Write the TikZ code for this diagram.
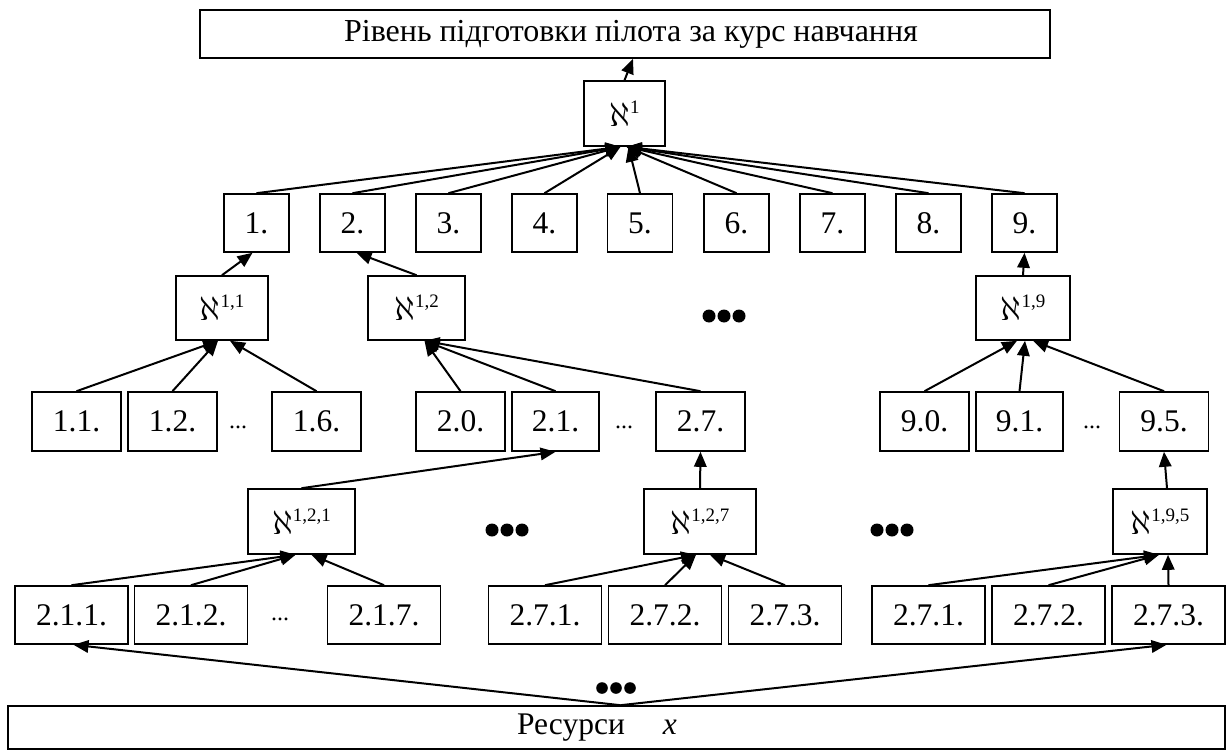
\RequirePackage{fix-cm}
\documentclass[tikz,border=0pt]{standalone}
\usepackage{fontspec}
\setmainfont{Liberation Serif}
\usetikzlibrary{arrows.meta}
\newcommand\alephsup[1]{{\fontsize{34}{34}\selectfont$\aleph$}\raisebox{13pt}{\fontsize{19}{19}\selectfont #1}}
\begin{document}
\begin{tikzpicture}[x=1pt,y=-1pt,
  box/.style={draw,line width=1.6pt,inner sep=0pt,font=\fontsize{31.5}{31.5}\selectfont},
  nb/.style={box,minimum width=65,minimum height=58},
  mb/.style={box,minimum width=89,minimum height=59},
  lb/.style={box,minimum width=113,minimum height=58},
  ab/.style={box,minimum height=65},
  arr/.style={line width=2pt,-{Triangle[length=15pt,width=12.5pt]}},
  ell/.style={font=\fontsize{24}{24}\selectfont,inner sep=0pt}]
\useasboundingbox (0,0) rectangle (1228,752);
% title
\node[box,minimum width=850,minimum height=48,font=\fontsize{32}{32}\selectfont] (T) at (625,34) {\hspace*{12pt}Рівень підготовки пілота за курс навчання};
\node[ab,minimum width=81] (A1) at (624.5,113.5) {\alephsup{1}};
% row 1
\foreach \i/\x in {1/256.5,2/352.5,3/448.5,4/544.5,5/640,6/736.5,7/832.5,8/928.5,9/1024.5}
  \node[nb] (b\i) at (\x,223) {\i.};
% row 2
\node[ab,minimum width=92,minimum height=64] (A11) at (222,308) {\alephsup{1,1}};
\node[ab,minimum width=97,minimum height=64] (A12) at (416.5,308) {\alephsup{1,2}};
\node[ab,minimum width=94,minimum height=64] (A19) at (1023,308) {\alephsup{1,9}};
% row 3
\node[mb] (c11) at (76.5,421.5) {1.1.};
\node[mb] (c12) at (172.5,421.5) {1.2.};
\node[ell] (e1) at (238,427) {...};
\node[mb] (c16) at (316.5,421.5) {1.6.};
\node[mb] (c20) at (460.5,421.5) {2.0.};
\node[mb,minimum width=87] (c21) at (555.5,421.5) {2.1.};
\node[ell] (e2) at (624,427) {...};
\node[mb] (c27) at (700.5,421.5) {2.7.};
\node[mb] (c90) at (924.5,421.5) {9.0.};
\node[mb,minimum width=87] (c91) at (1019.5,421.5) {9.1.};
\node[ell] (e3) at (1092,427) {...};
\node[mb] (c95) at (1164,421.5) {9.5.};
% row 4
\node[ab,minimum width=107] (A121) at (301.5,521.5) {\alephsup{1,2,1}};
\node[ab,minimum width=112] (A127) at (700,521.5) {\alephsup{1,2,7}};
\node[ab,minimum width=94] (A195) at (1160,521.5) {\alephsup{1,9,5}};
% row 5
\node[lb] (d211) at (71.5,615) {2.1.1.};
\node[lb] (d212) at (191,615) {2.1.2.};
\node[ell] (e4) at (280,619) {...};
\node[lb] (d217) at (384,615) {2.1.7.};
\node[lb] (d271) at (545,615) {2.7.1.};
\node[lb] (d272) at (665,615) {2.7.2.};
\node[lb] (d273) at (785,615) {2.7.3.};
\node[lb] (f271) at (928.5,615) {2.7.1.};
\node[lb] (f272) at (1048.5,615) {2.7.2.};
\node[lb] (f273) at (1168.5,615) {2.7.3.};
% resources
\node[box,minimum width=1217,minimum height=43] (R) at (616.5,727.5) {Ресурси\hspace{38pt}\textit{x}\hspace*{39pt}};
% big dots
\coordinate (g1) at (724,316);
\coordinate (g2) at (507,530);
\coordinate (g3) at (892,530);
\coordinate (g4) at (616,688);
\foreach \g in {g1,g2,g3}
  \foreach \dx in {-15,0,15}
    \fill ([xshift=\dx pt]\g) circle (6.5pt);
\foreach \dx in {-14,0,14}
  \fill ([xshift=\dx pt]g4) circle (5.8pt);
% arrows
\draw[arr] (A1.north) -- ([xshift=8pt]T.south);
\foreach \i in {1,2,3,4}
  \draw[arr] (b\i.north) -- ([xshift=-4pt]A1.south);
\draw[arr] (b5.north) -- ([xshift=4pt]A1.south);
\foreach \i in {6,7,8,9}
  \draw[arr] (b\i.north) -- ([xshift=2pt]A1.south);
\draw[arr] (A11.north) -- ([xshift=-4pt]b1.south);
\draw[arr] (A12.north) -- ([xshift=4pt]b2.south);
\draw[arr] (A19.north) -- (b9.south);
\draw[arr] (c11.north) -- ([xshift=-4pt]A11.south);
\draw[arr] (c12.north) -- ([xshift=-4pt]A11.south);
\draw[arr] (c16.north) -- ([xshift=8pt]A11.south);
\foreach \n in {c20,c21,c27}
  \draw[arr] (\n.north) -- ([xshift=8pt]A12.south);
\draw[arr] (c90.north) -- ([xshift=-6pt]A19.south);
\draw[arr] (c91.north) -- ([xshift=2pt]A19.south);
\draw[arr] (c95.north) -- ([xshift=10pt]A19.south);
\draw[arr] (A121.north) -- (c21.south);
\draw[arr] (A127.north) -- (c27.south);
\draw[arr] ([xshift=7pt]A195.north) -- (c95.south);
\draw[arr] (d211.north) -- ([xshift=-6pt]A121.south);
\draw[arr] (d212.north) -- ([xshift=-6pt]A121.south);
\draw[arr] (d217.north) -- ([xshift=10pt]A121.south);
\draw[arr] (d271.north) -- ([xshift=-4pt]A127.south);
\draw[arr] (d272.north) -- ([xshift=-4pt]A127.south);
\draw[arr] (d273.north) -- ([xshift=10pt]A127.south);
\draw[arr] (f271.north) -- ([xshift=-1pt]A195.south);
\draw[arr] (f272.north) -- ([xshift=-1pt]A195.south);
\draw[arr] (f273.north) -- ([xshift=8pt]A195.south);
\draw[arr] ([xshift=4pt]R.north) -- ([xshift=2pt]d211.south);
\draw[arr] ([xshift=4pt]R.north) -- ([xshift=-2pt]f273.south);
\end{tikzpicture}
\end{document}
